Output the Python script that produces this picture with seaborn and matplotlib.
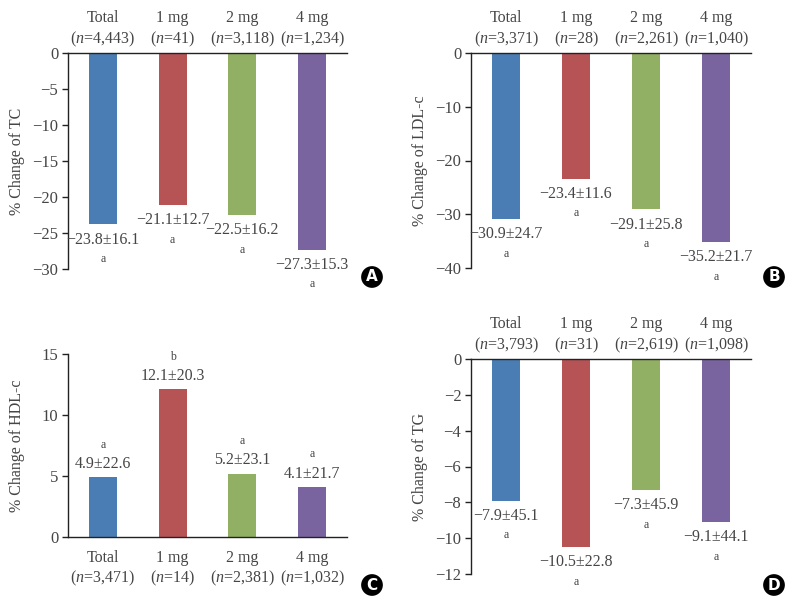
import matplotlib
matplotlib.use("Agg")
import matplotlib.pyplot as plt
import seaborn as sns
import pandas as pd
import numpy as np

sns.set_theme(style="white")
plt.rcParams['font.family'] = ['Liberation Serif', 'DejaVu Serif']
plt.rcParams['mathtext.fontset'] = 'custom'
plt.rcParams['mathtext.it'] = 'Liberation Serif:italic'
plt.rcParams['mathtext.rm'] = 'Liberation Serif'
plt.rcParams['axes.unicode_minus'] = True

groups = ["Total", "1 mg", "2 mg", "4 mg"]
colors = ["#4A7DB4", "#B65355", "#91B063", "#7A64A0"]

tc_mean = [-23.8, -21.1, -22.5, -27.3]
tc_sd = [16.1, 12.7, 16.2, 15.3]
tc_n = ["4,443", "41", "3,118", "1,234"]
tc_sig = ["a", "a", "a", "a"]

ldl_mean = [-30.9, -23.4, -29.1, -35.2]
ldl_sd = [24.7, 11.6, 25.8, 21.7]
ldl_n = ["3,371", "28", "2,261", "1,040"]
ldl_sig = ["a", "a", "a", "a"]

hdl_mean = [4.9, 12.1, 5.2, 4.1]
hdl_sd = [22.6, 20.3, 23.1, 21.7]
hdl_n = ["3,471", "14", "2,381", "1,032"]
hdl_sig = ["a", "b", "a", "a"]

tg_mean = [-7.9, -10.5, -7.3, -9.1]
tg_sd = [45.1, 22.8, 45.9, 44.1]
tg_n = ["3,793", "31", "2,619", "1,098"]
tg_sig = ["a", "a", "a", "a"]

TXT = "#454545"
AX = "#222222"

fig = plt.figure(figsize=(7.98, 6.05), dpi=100)

def fmt(v):
    s = f"{abs(v):.1f}"
    return ("\u2212" + s) if v < 0 else s

panels = [
    ([68, 53, 347, 269], tc_mean, tc_sd, tc_n, tc_sig, "% Change of TC", (-30, 0), 5, "A", (372, 277)),
    ([471, 53, 751, 268], ldl_mean, ldl_sd, ldl_n, ldl_sig, "% Change of LDL-c", (-40, 0), 10, "B", (774, 277)),
    ([68, 354, 347, 537], hdl_mean, hdl_sd, hdl_n, hdl_sig, "% Change of HDL-c", (0, 15), 5, "C", (372, 585)),
    ([471, 359, 751, 574], tg_mean, tg_sd, tg_n, tg_sig, "% Change of TG", (-12, 0), 2, "D", (774, 585)),
]

W, H = 798, 605
for rect, mean, sd, n, sig, ylabel, ylim, step, letter, lpos in panels:
    l, t, r, b = rect
    ax = fig.add_axes([l / W, 1 - b / H, (r - l) / W, (b - t) / H])
    df = pd.DataFrame({"group": groups, "value": mean})
    sns.barplot(data=df, x="group", y="value", hue="group", palette=colors,
                width=0.4, legend=False, ax=ax, saturation=1, edgecolor="none")
    ax.set_ylim(*ylim)
    ax.set_xlim(-0.5, 3.5)
    ax.set_yticks(np.arange(ylim[0], ylim[1] + 0.001, step))
    ax.tick_params(axis="y", direction="out", length=4, width=1, color=AX,
                   labelsize=12, labelcolor=TXT, pad=3, left=True)
    negative = ylim[1] == 0
    ax.spines["right"].set_visible(False)
    if negative:
        ax.spines["bottom"].set_visible(False)
        ax.spines["top"].set_visible(True)
        ax.xaxis.tick_top()
    else:
        ax.spines["top"].set_visible(False)
        ax.spines["bottom"].set_visible(True)
    for sp in ["left", "top", "bottom"]:
        ax.spines[sp].set_color(AX)
        ax.spines[sp].set_linewidth(1.0)
    labels = [f"{g}\n($n$={nn})" for g, nn in zip(groups, n)]
    ax.set_xticks(range(4))
    ax.set_xticklabels(labels, fontsize=11.5, color=TXT, linespacing=1.25)
    ax.tick_params(axis="x", length=0, pad=(3 if negative else 9))
    ax.set_xlabel("")
    ax.set_ylabel(ylabel, fontsize=11.5, color=TXT)
    ax.yaxis.set_label_coords(-0.155, 0.5)
    for i, (m, s, sg) in enumerate(zip(mean, sd, sig)):
        txt = f"{fmt(m)}\u00b1{s:.1f}"
        sign = -1 if m < 0 else 1
        d1 = 11 if m < 0 else 9.5
        d2 = 25 if m < 0 else 23.5
        ax.annotate(txt, (i, m), xytext=(0, sign * d1), textcoords="offset points",
                    ha="center", va="center", fontsize=11.5, color=TXT, annotation_clip=False)
        ax.annotate(sg, (i, m), xytext=(0, sign * d2), textcoords="offset points",
                    ha="center", va="center", fontsize=8.5, color=TXT, annotation_clip=False)
    fig.text(lpos[0] / W, 1 - lpos[1] / H, letter, ha="center", va="center",
             fontsize=11, fontweight="bold", color="white", family="DejaVu Sans",
             bbox=dict(boxstyle="circle,pad=0.22", fc="black", ec="none"))

fig.savefig("out.png", dpi=100)
